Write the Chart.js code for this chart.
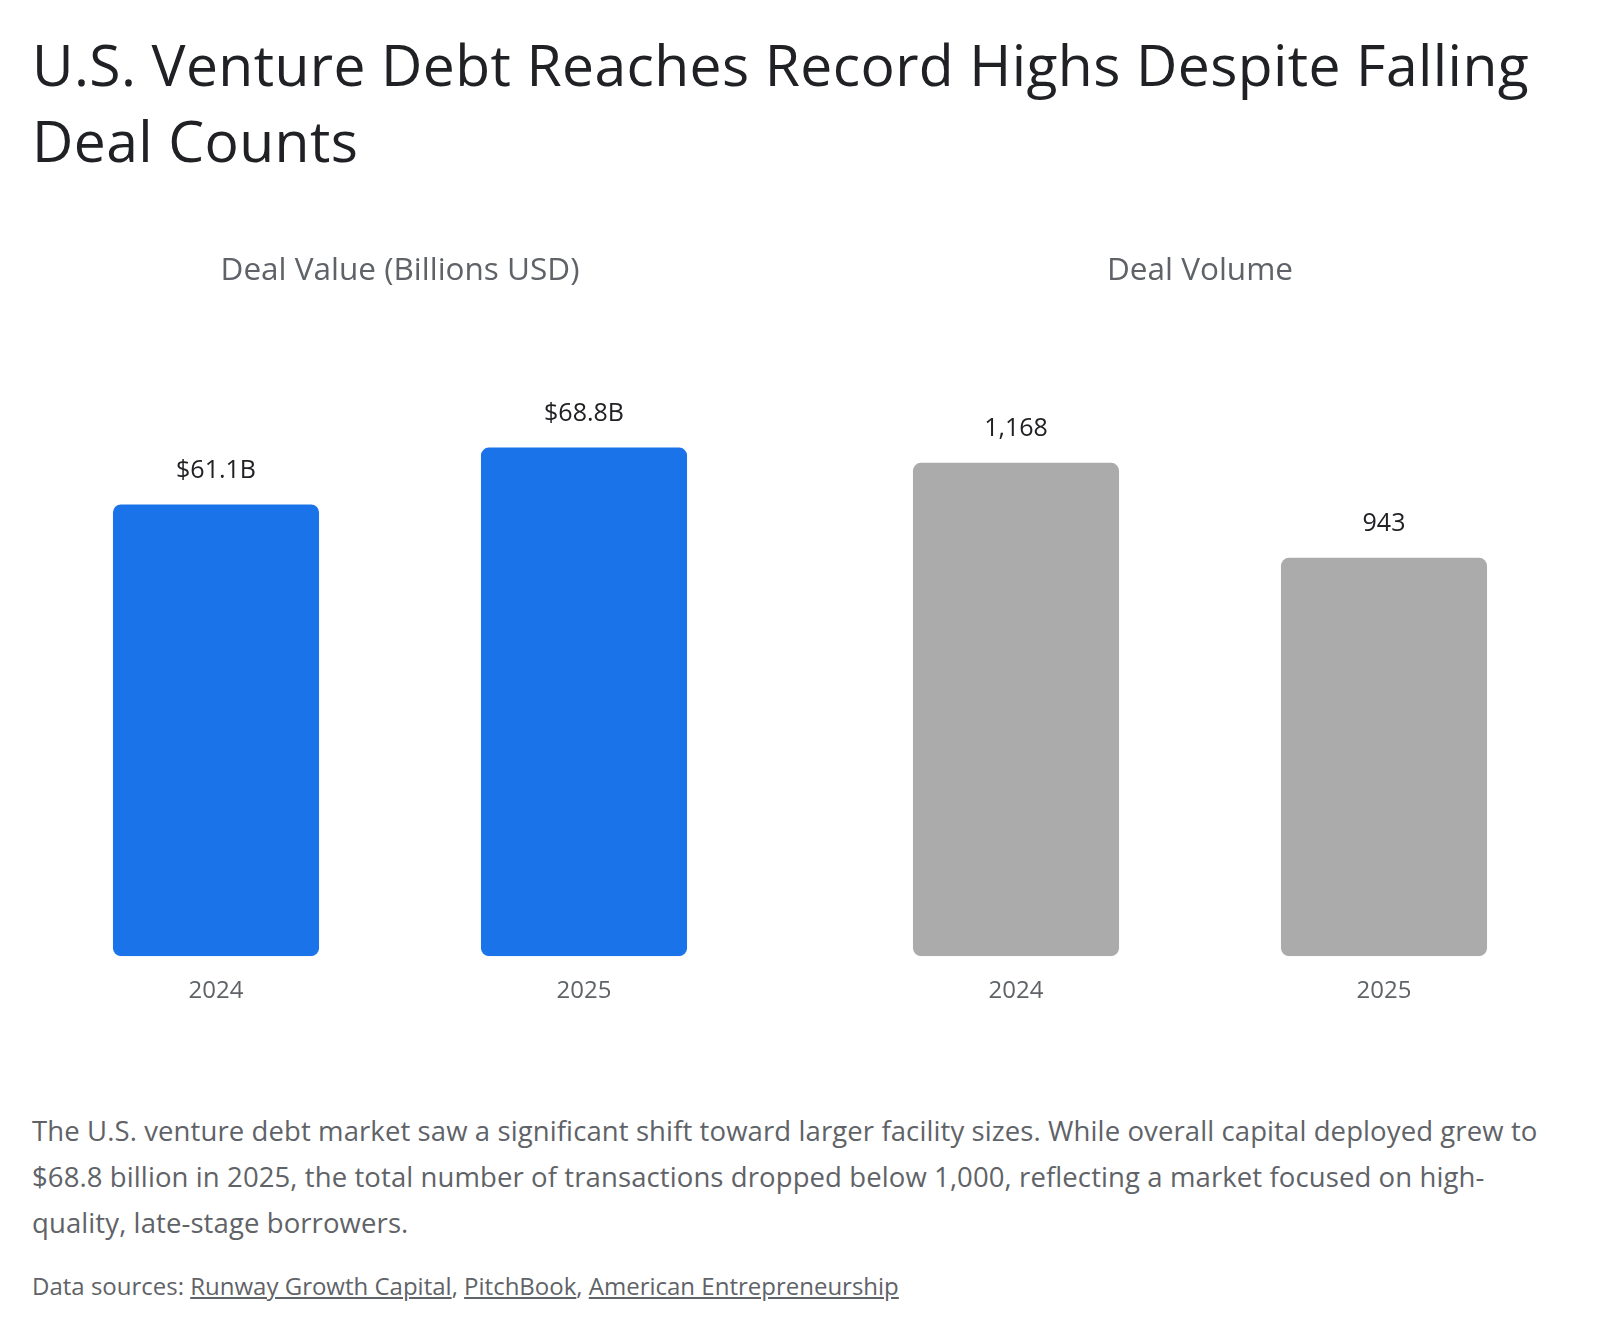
<!DOCTYPE html>
<html>
<head>
<meta charset="utf-8">
<script src="https://cdn.jsdelivr.net/npm/chart.js@4.4.1/dist/chart.umd.min.js"></script>
<style>
  body { margin: 0; background: #fff; font-family: "Open Sans", Roboto, sans-serif; }
  #page { position: relative; width: 1600px; height: 1334px; }
  h1 { position: absolute; left: 32px; top: 26px; width: 1560px; margin: 0; font-weight: 400; font-size: 57px; line-height: 76px; color: #202124; letter-spacing: 0.4px; white-space: nowrap; }
  .chart-box { position: absolute; top: 232px; width: 736px; height: 812px; }
  #left { left: 32px; }
  #right { left: 832px; }
  p.note { position: absolute; left: 32px; top: 1108px; width: 1560px; margin: 0; font-size: 27.5px; line-height: 46px; color: #5f6368; letter-spacing: 0.1px; white-space: nowrap; }
  p.src { position: absolute; left: 32px; top: 1269px; margin: 0; font-size: 24px; color: #5f6368; }
  p.src span { text-decoration: underline; }
</style>
</head>
<body>
<div id="page">
  <h1>U.S. Venture Debt Reaches Record Highs Despite Falling<br>Deal Counts</h1>
  <div class="chart-box" id="left"><canvas id="valueChart"></canvas></div>
  <div class="chart-box" id="right"><canvas id="volumeChart"></canvas></div>
  <p class="note">The U.S. venture debt market saw a significant shift toward larger facility sizes. While overall capital deployed grew to<br>$68.8 billion in 2025, the total number of transactions dropped below 1,000, reflecting a market focused on high-<br>quality, late-stage borrowers.</p>
  <p class="src">Data sources: <span>Runway Growth Capital</span>, <span>PitchBook</span>, <span>American Entrepreneurship</span></p>
</div>
<script>
// Data
const years = ['2024', '2025'];
const dealValue = [61.1, 68.8];          // billions USD
const dealVolume = [1168, 943];          // number of deals
const valueLabels = ['$61.1B', '$68.8B'];
const volumeLabels = ['1,168', '943'];
const valueAxisMax = 80;
const volumeAxisMax = 1400;

const fontFamily = '"Open Sans", Roboto, sans-serif';

// small plugin: writes the value text above each bar
const barLabels = {
    id: 'barLabels',
    afterDatasetsDraw(chart, args, opts) {
        const ctx = chart.ctx;
        const meta = chart.getDatasetMeta(0);
        ctx.save();
        ctx.font = '25px ' + fontFamily;
        ctx.fillStyle = '#202124';
        ctx.textAlign = 'center';
        ctx.textBaseline = 'middle';
        meta.data.forEach((bar, i) => {
            ctx.fillText(opts.labels[i], bar.x, bar.y - 34);
        });
        ctx.restore();
    }
};

function makeChart(id, title, values, labels, color, yMax) {
    return new Chart(document.getElementById(id), {
        type: 'bar',
        data: {
            labels: years,
            datasets: [{
                data: values,
                backgroundColor: color,
                borderRadius: 8,
                borderSkipped: false,
                categoryPercentage: 0.8,
                barPercentage: 0.7
            }]
        },
        options: {
            responsive: true,
            maintainAspectRatio: false,
            animation: false,
            layout: { padding: { top: 0, bottom: 25, left: 0, right: 0 } },
            scales: {
                x: {
                    grid: { display: false },
                    border: { display: false },
                    ticks: {
                        color: '#5f6368',
                        padding: 13,
                        font: { family: fontFamily, size: 24 }
                    }
                },
                y: {
                    display: false,
                    min: 0,
                    max: yMax
                }
            },
            plugins: {
                legend: { display: false },
                tooltip: { enabled: false },
                title: {
                    display: true,
                    text: title,
                    color: '#5f6368',
                    font: { family: fontFamily, size: 31.5, weight: 'normal' },
                    padding: { top: 20, bottom: 75 }
                },
                barLabels: { labels: labels }
            }
        },
        plugins: [barLabels]
    });
}

makeChart('valueChart', 'Deal Value (Billions USD)', dealValue, valueLabels, '#1a73e8', valueAxisMax);
makeChart('volumeChart', 'Deal Volume', dealVolume, volumeLabels, '#ababab', volumeAxisMax);
</script>
</body>
</html>
